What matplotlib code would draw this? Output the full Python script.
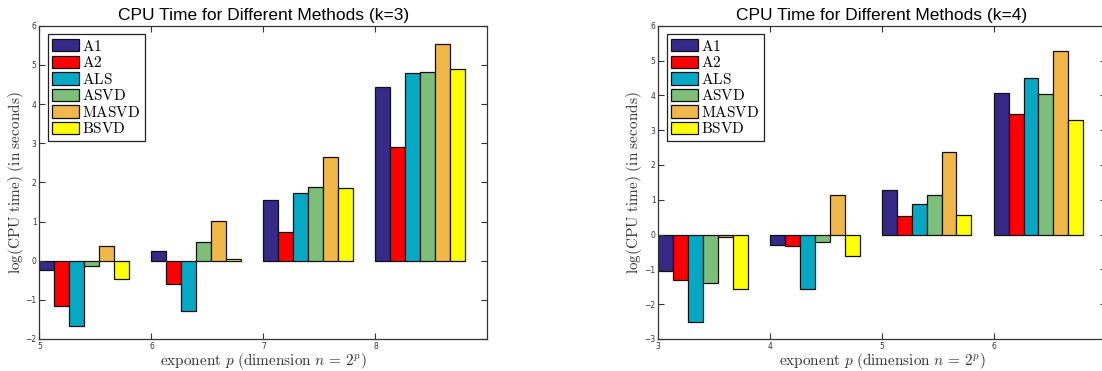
import numpy as np
import matplotlib
matplotlib.use('Agg')
from matplotlib import pyplot as plt

# methods and their bar colours
methods = ['A1', 'A2', 'ALS', 'ASVD', 'MASVD', 'BSVD']
colors = ['#352A87', '#FF0000', '#06A8C4', '#7DBE79', '#F0B74A', '#FFFF00']

# k = 3 : log(CPU time) per exponent p
p_k3 = [5, 6, 7, 8]
a1_k3 = [-0.24, 0.25, 1.54, 4.43]
a2_k3 = [-1.16, -0.59, 0.72, 2.89]
als_k3 = [-1.68, -1.29, 1.74, 4.80]
asvd_k3 = [-0.13, 0.47, 1.89, 4.82]
masvd_k3 = [0.38, 1.02, 2.64, 5.54]
bsvd_k3 = [-0.47, 0.03, 1.86, 4.90]

# k = 4
p_k4 = [3, 4, 5, 6]
a1_k4 = [-1.04, -0.30, 1.27, 4.08]
a2_k4 = [-1.31, -0.32, 0.54, 3.47]
als_k4 = [-2.51, -1.56, 0.89, 4.49]
asvd_k4 = [-1.39, -0.21, 1.15, 4.04]
masvd_k4 = [-0.08, 1.15, 2.38, 5.28]
bsvd_k4 = [-1.55, -0.63, 0.56, 3.30]

plt.rcParams['mathtext.fontset'] = 'cm'


def draw(ax, p, series, k, ylim):
    w = 0.8 / len(series)
    p = np.array(p, dtype=float)
    for i, (name, vals) in enumerate(zip(methods, series)):
        ax.bar(p + i * w, vals, w, align='edge', color=colors[i],
               edgecolor='#111111', linewidth=0.9, label=r'$\mathrm{%s}$' % name)
    ax.set_xlim(p[0], p[0] + 4)
    ax.set_ylim(*ylim)
    ax.set_xticks(p)
    ax.set_yticks(np.arange(ylim[0], ylim[1] + 1))
    ax.tick_params(direction='in', length=4, width=0.8, labelsize=5.5,
                   colors='#333333', top=True, right=True, pad=2)
    for s in ax.spines.values():
        s.set_color('#333333')
        s.set_linewidth(0.9)
    ax.set_title('CPU Time for Different Methods (k=%d)' % k,
                 fontsize=12.5, family='Liberation Sans', pad=4)
    ax.set_ylabel(r'$\mathrm{log(CPU\ time)\ (in\ seconds)}$', fontsize=11,
                  color='#333333', labelpad=0)
    ax.set_xlabel(r'$\mathrm{exponent}\ p\ \mathrm{(dimension}\ n\,=\,2^p\mathrm{)}$',
                  fontsize=11, color='#333333', labelpad=0)
    ax.legend(loc='upper left', fontsize=11, frameon=True, fancybox=False,
              edgecolor='#222222', framealpha=1, handlelength=1.75,
              handleheight=0.85, handletextpad=0.2, labelspacing=0.1,
              borderpad=0.3, borderaxespad=0.55)
    ax.get_legend().get_frame().set_linewidth(0.9)


fig = plt.figure(figsize=(11.02, 3.71), dpi=100)
ax1 = fig.add_axes([0.0358, 0.0863, 0.4065, 0.8444])
ax2 = fig.add_axes([0.5974, 0.0863, 0.4058, 0.8444])

draw(ax1, p_k3, [a1_k3, a2_k3, als_k3, asvd_k3, masvd_k3, bsvd_k3], 3, (-2, 6))
draw(ax2, p_k4, [a1_k4, a2_k4, als_k4, asvd_k4, masvd_k4, bsvd_k4], 4, (-3, 6))

fig.savefig('out.png', dpi=100)
